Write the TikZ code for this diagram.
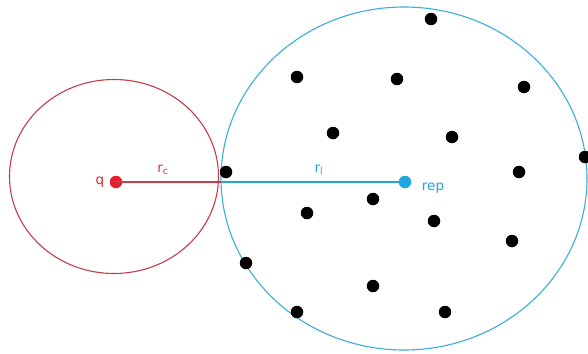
\documentclass[tikz,border=0pt]{standalone}
\usepackage{fontspec}
\setmainfont{DejaVu Sans}
\definecolor{qred}{RGB}{228,32,44}
\definecolor{cred}{RGB}{196,62,74}
\definecolor{repblue}{RGB}{30,168,222}
\definecolor{cblue}{RGB}{60,175,215}
\begin{document}
\begin{tikzpicture}[x=1pt,y=-1pt,
  pt/.style={circle,fill=black,inner sep=0pt,minimum size=12.5pt},
  qdot/.style={circle,fill=qred,inner sep=0pt,minimum size=12.5pt},
  repdot/.style={circle,fill=repblue,inner sep=0pt,minimum size=12.5pt},
  lbl/.style={font=\fontsize{13.5}{15}\selectfont,inner sep=1pt}]
\useasboundingbox (0,0) rectangle (588,353);
\fill[white] (0,0) rectangle (588,353);
% circles
\draw[cred,line width=1.1pt] (114,176.5) ellipse [x radius=104.5, y radius=97];
\draw[cblue,line width=1.1pt] (404,178.5) ellipse [x radius=183, y radius=171.5];
% points
\foreach \px/\py [count=\i] in {431/19,297/77,397/79,524/87,333/133,452/137,585/157,226/172,519/172,373/199,307/213,434/221,512/241,246/263,373/286,297/312,445/312}
  \node[pt] (p\i) at (\px,\py) {};
% centres and radii
\node[qdot] (q) at (116,182) {};
\node[repdot] (rep) at (405,182) {};
\coordinate (t) at (221,182);
\draw[cred,line width=1.5pt] (q.center) -- (t);
\draw[repblue,line width=1.5pt] (t) -- (rep.center);
% labels
\node[lbl,text=qred] (ql) at (100,182) {q};
\node[lbl,text=cred] (rcl) at (163,170) {r$_{\mathrm{c}}$};
\node[lbl,text=repblue] (rll) at (319,170) {r$_{\mathrm{l}}$};
\node[lbl,text=repblue] (repl) at (433,188) {rep};
\end{tikzpicture}
\end{document}
